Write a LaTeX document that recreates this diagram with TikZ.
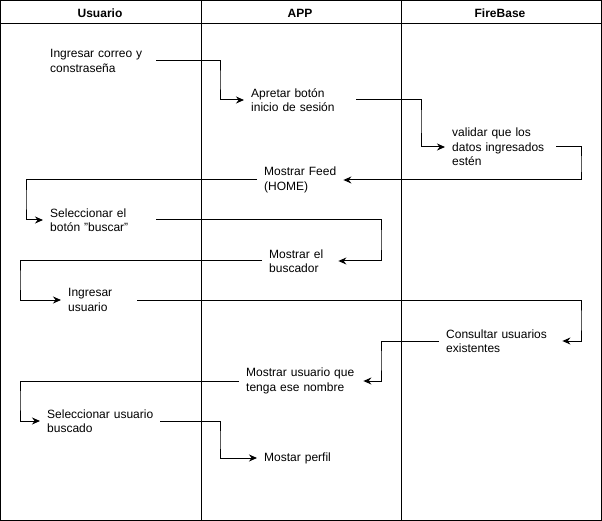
\documentclass[tikz,border=0pt]{standalone}
\usepackage{fontspec}
\setmainfont{Liberation Sans}
\usetikzlibrary{arrows.meta}
\tikzset{
  step box/.style={anchor=west, inner xsep=7pt, inner ysep=0pt, align=left, font=\fontsize{12}{14.5}\selectfont},
  head/.style={font=\fontsize{12}{14}\selectfont\bfseries},
  flow/.style={line width=1pt, -{Stealth[length=8pt,width=7pt]}},
  frame/.style={line width=1pt}
}
\begin{document}
\begin{tikzpicture}[x=1pt,y=-1pt]
\useasboundingbox (0,0) rectangle (602,521);
% swimlanes
\draw[frame] (0.5,0.5) rectangle (601.5,520.5);
\draw[frame] (0.5,23.5) -- (601.5,23.5);
\draw[frame] (201,0.5) -- (201,520.5);
\draw[frame] (401,0.5) -- (401,520.5);
\node[head] (hU) at (100,13) {Usuario};
\node[head] (hA) at (300,13) {APP};
\node[head] (hF) at (500,13) {FireBase};
% steps
\node[step box, text width=99pt] (n1) at (43,61) {Ingresar correo y\\constraseña};
\node[step box, text width=98pt] (n2) at (244,100) {Apretar botón\\inicio de sesión};
\node[step box, text width=97pt] (n3) at (445,147) {validar que los\\datos ingresados\\estén};
\node[step box, text width=72pt] (n4) at (257,180) {\mbox{Mostrar Feed}\\(HOME)};
\node[step box, text width=99pt] (n5) at (43,220) {Seleccionar el\\botón "buscar"};
\node[step box, text width=62pt] (n6) at (262,261) {Mostrar el\\buscador};
\node[step box, text width=62pt] (n7) at (61,300) {Ingresar\\usuario};
\node[step box, text width=109pt] (n8) at (439,341) {Consultar usuarios\\existentes};
\node[step box, text width=110pt] (n9) at (239,381) {Mostrar usuario que\\tenga ese nombre};
\node[step box, text width=106pt] (n10) at (40,421) {\mbox{Seleccionar usuario}\\buscado};
\node[step box, text width=90pt] (n11) at (257,458) {Mostar perfil};
% connectors
\draw[flow] (n1.east) -| (220,80) |- (n2.west);
\draw[flow] (n2.east) -| (421,120) |- (n3.west);
\draw[flow] (n3.east) -| (581,165) |- (n4.east);
\draw[flow] (n4.west) -| (26,200) |- (n5.west);
\draw[flow] (n5.east) -| (381,240) |- (n6.east);
\draw[flow] (n6.west) -| (20,280) |- (n7.west);
\draw[flow] (n7.east) -| (581,320) |- (n8.east);
\draw[flow] (n8.west) -| (381,360) |- (n9.east);
\draw[flow] (n9.west) -| (20,400) |- (n10.west);
\draw[flow] (n10.east) -| (220,440) |- (n11.west);
\end{tikzpicture}
\end{document}
